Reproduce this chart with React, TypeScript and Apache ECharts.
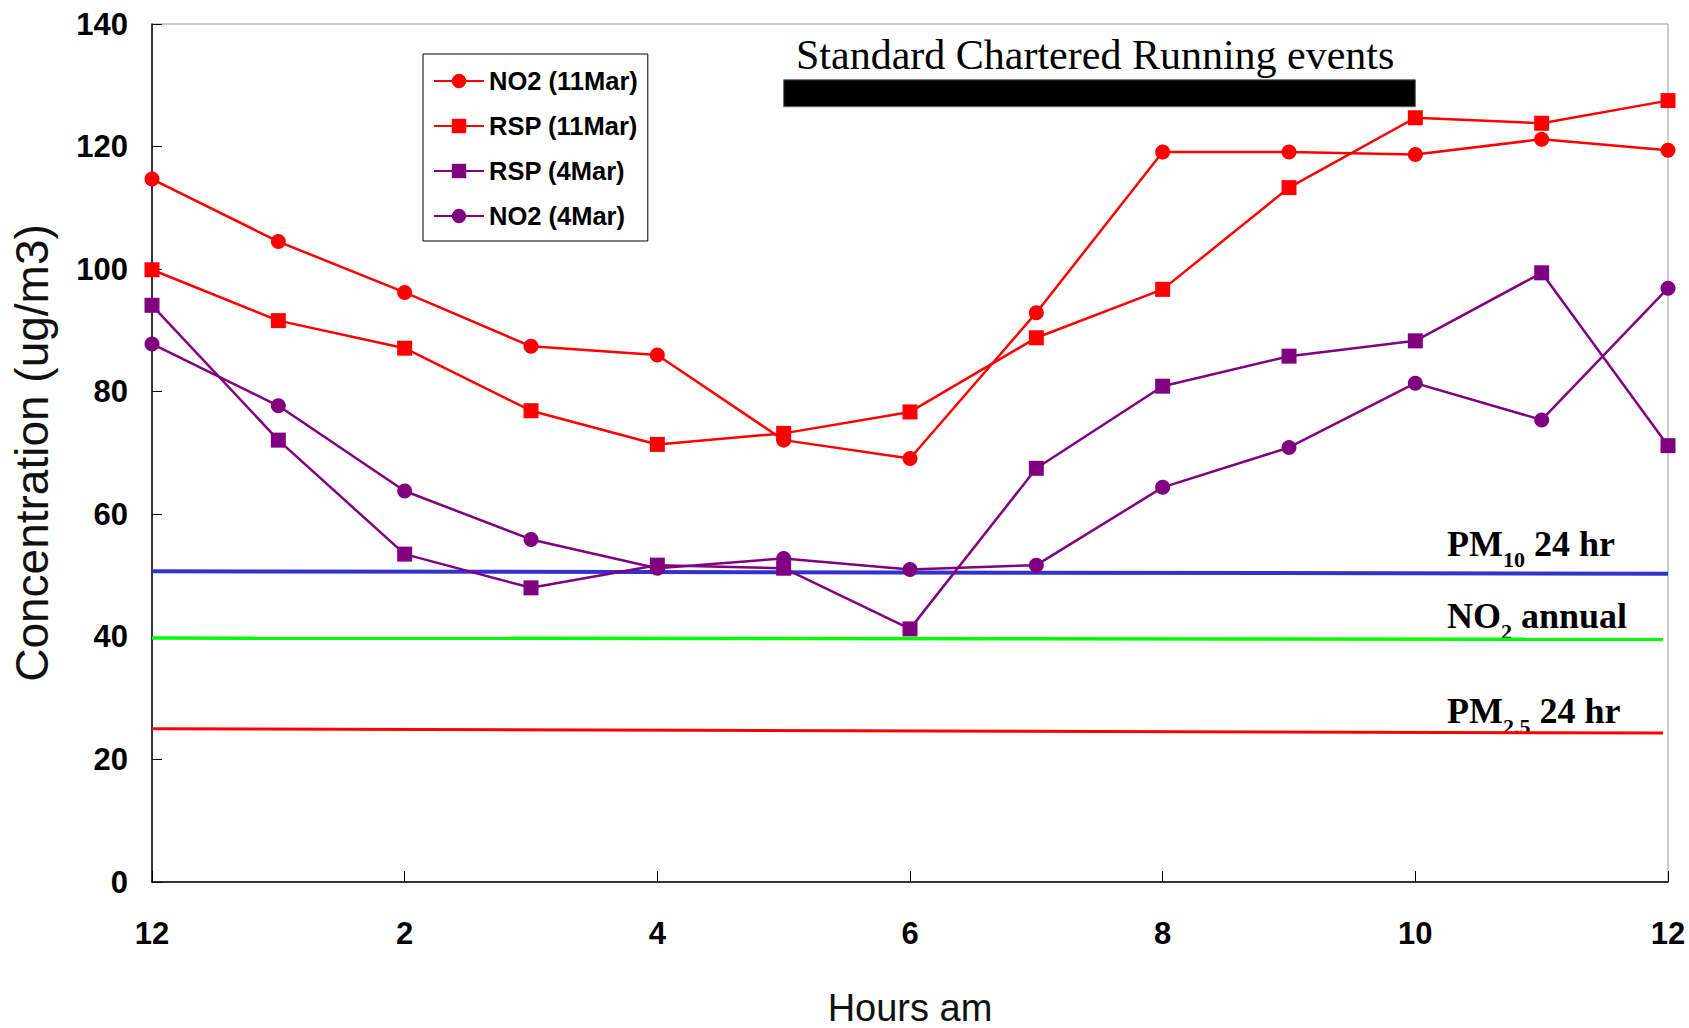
import React, { useEffect, useRef } from "react";
import * as echarts from "echarts";

const hours = [0, 1, 2, 3, 4, 5, 6, 7, 8, 9, 10, 11, 12];
const xTickLabels = ["12", "2", "4", "6", "8", "10", "12"];
const no2Mar11 = [114.7, 104.5, 96.2, 87.4, 86.0, 72.1, 69.1, 92.9, 119.1, 119.1, 118.7, 121.2, 119.4];
const rspMar11 = [99.9, 91.6, 87.1, 76.9, 71.4, 73.2, 76.7, 88.8, 96.7, 113.3, 124.7, 123.8, 127.5];
const rspMar4 = [94.1, 72.1, 53.5, 48.0, 51.7, 51.2, 41.3, 67.5, 80.9, 85.8, 88.3, 99.4, 71.2];
const no2Mar4 = [87.8, 77.7, 63.8, 55.9, 51.2, 52.8, 51.0, 51.7, 64.4, 70.9, 81.4, 75.4, 96.9];
const pm10Line = [[0, 50.7], [12, 50.3]];
const no2AnnualLine = [[0, 39.8], [11.96, 39.6]];
const pm25Line = [[0, 25.0], [11.96, 24.3]];
const eventSpan = [5, 10];
const eventBand = [126.5, 130.9];

const RED = "#FF0000";
const PURPLE = "#800080";

const pair = (ys: number[]) => hours.map((h, i) => [h, ys[i]]);

export default function App() {
  const ref = useRef<HTMLDivElement>(null);
  useEffect(() => {
    const chart = echarts.init(ref.current!, null, { renderer: "svg" });
    const mk = (name: string, data: number[], color: string, symbol: string) => ({
      name,
      type: "line",
      data: pair(data),
      symbol,
      symbolSize: 15,
      showAllSymbol: true,
      lineStyle: { color, width: 2.5 },
      itemStyle: { color },
      z: 5,
    });
    const refLine = (name: string, data: number[][], color: string, width: number) => ({
      name,
      type: "line",
      data,
      symbol: "none",
      lineStyle: { color, width },
      itemStyle: { color },
      z: 3,
      silent: true,
    });
    const subRich = {
      b: { fontFamily: "Liberation Serif", fontWeight: "bold", fontSize: 36, lineHeight: 36, verticalAlign: "top", color: "#000" },
      s: { fontFamily: "Liberation Serif", fontWeight: "bold", fontSize: 22, lineHeight: 44, verticalAlign: "bottom", color: "#000" },
    };
    chart.setOption({
      animation: false,
      backgroundColor: "#fff",
      grid: {
        left: 152, right: 21, top: 24, bottom: 146,
        outerBoundsMode: "none", containLabel: false,
        show: true, borderColor: "#999", borderWidth: 1,
      },
      legend: {
        data: ["NO2 (11Mar)", "RSP (11Mar)", "RSP (4Mar)", "NO2 (4Mar)"],
        orient: "vertical",
        left: 423,
        top: 54,
        itemWidth: 50,
        itemHeight: 18,
        itemGap: 15,
        padding: [12, 10, 10, 10],
        borderColor: "#000",
        borderWidth: 1,
        backgroundColor: "#fff",
        textStyle: { fontFamily: "Liberation Sans", fontWeight: "bold", fontSize: 25.5, lineHeight: 30, color: "#000" },
      },
      xAxis: {
        type: "value",
        min: 0,
        max: 12,
        interval: 2,
        name: "Hours am",
        nameLocation: "middle",
        nameGap: 107,
        nameTextStyle: { fontFamily: "Liberation Sans", fontSize: 38, color: "#111" },
        axisLine: { lineStyle: { color: "#000", width: 1.5 } },
        axisTick: { inside: true, length: 11, lineStyle: { color: "#000" } },
        splitLine: { show: false },
        axisLabel: {
          margin: 36,
          fontFamily: "Liberation Sans",
          fontWeight: "bold",
          fontSize: 31,
          color: "#000",
          formatter: (v: number) => xTickLabels[Math.round(v / 2)],
        },
      },
      yAxis: {
        type: "value",
        min: 0,
        max: 140,
        interval: 20,
        name: "Concentration (ug/m3)",
        nameLocation: "middle",
        nameGap: 97,
        nameTextStyle: { fontFamily: "Liberation Sans", fontSize: 46, color: "#111" },
        axisLine: { show: true, lineStyle: { color: "#000", width: 1.5 } },
        axisTick: { show: true, inside: true, length: 10, lineStyle: { color: "#000" } },
        splitLine: { show: false },
        axisLabel: { margin: 24, fontFamily: "Liberation Sans", fontWeight: "bold", fontSize: 31, color: "#000" },
      },
      series: [
        {
          ...refLine("PM10 24 hr", pm10Line, "#3333CC", 4),
          markArea: {
            silent: true,
            itemStyle: { color: "#000", borderColor: "#666", borderWidth: 1 },
            data: [[{ xAxis: eventSpan[0], yAxis: eventBand[0] }, { xAxis: eventSpan[1], yAxis: eventBand[1] }]],
          },
        },
        refLine("NO2 annual", no2AnnualLine, "#00FF00", 3.5),
        refLine("PM2.5 24 hr", pm25Line, "#FF0000", 3),
        mk("NO2 (11Mar)", no2Mar11, RED, "circle"),
        mk("RSP (11Mar)", rspMar11, RED, "rect"),
        mk("RSP (4Mar)", rspMar4, PURPLE, "rect"),
        mk("NO2 (4Mar)", no2Mar4, PURPLE, "circle"),
      ],
      graphic: [
        {
          type: "text",
          left: 796,
          top: 34,
          style: { text: "Standard Chartered Running events", fontFamily: "Liberation Serif", fontSize: 42, fill: "#000" },
        },
        {
          type: "text",
          left: 1447,
          top: 526,
          style: { text: "{b|PM}{s|10}{b| 24 hr}", rich: subRich },
        },
        {
          type: "text",
          left: 1447,
          top: 598,
          style: { text: "{b|NO}{s|2}{b| annual}", rich: subRich },
        },
        {
          type: "text",
          left: 1447,
          top: 693,
          style: { text: "{b|PM}{s|2.5}{b| 24 hr}", rich: subRich },
        },
      ],
    });
    return () => chart.dispose();
  }, []);
  return <div ref={ref} style={{ width: 1689, height: 1028, position: "absolute", left: 0, top: 0 }} />;
}
